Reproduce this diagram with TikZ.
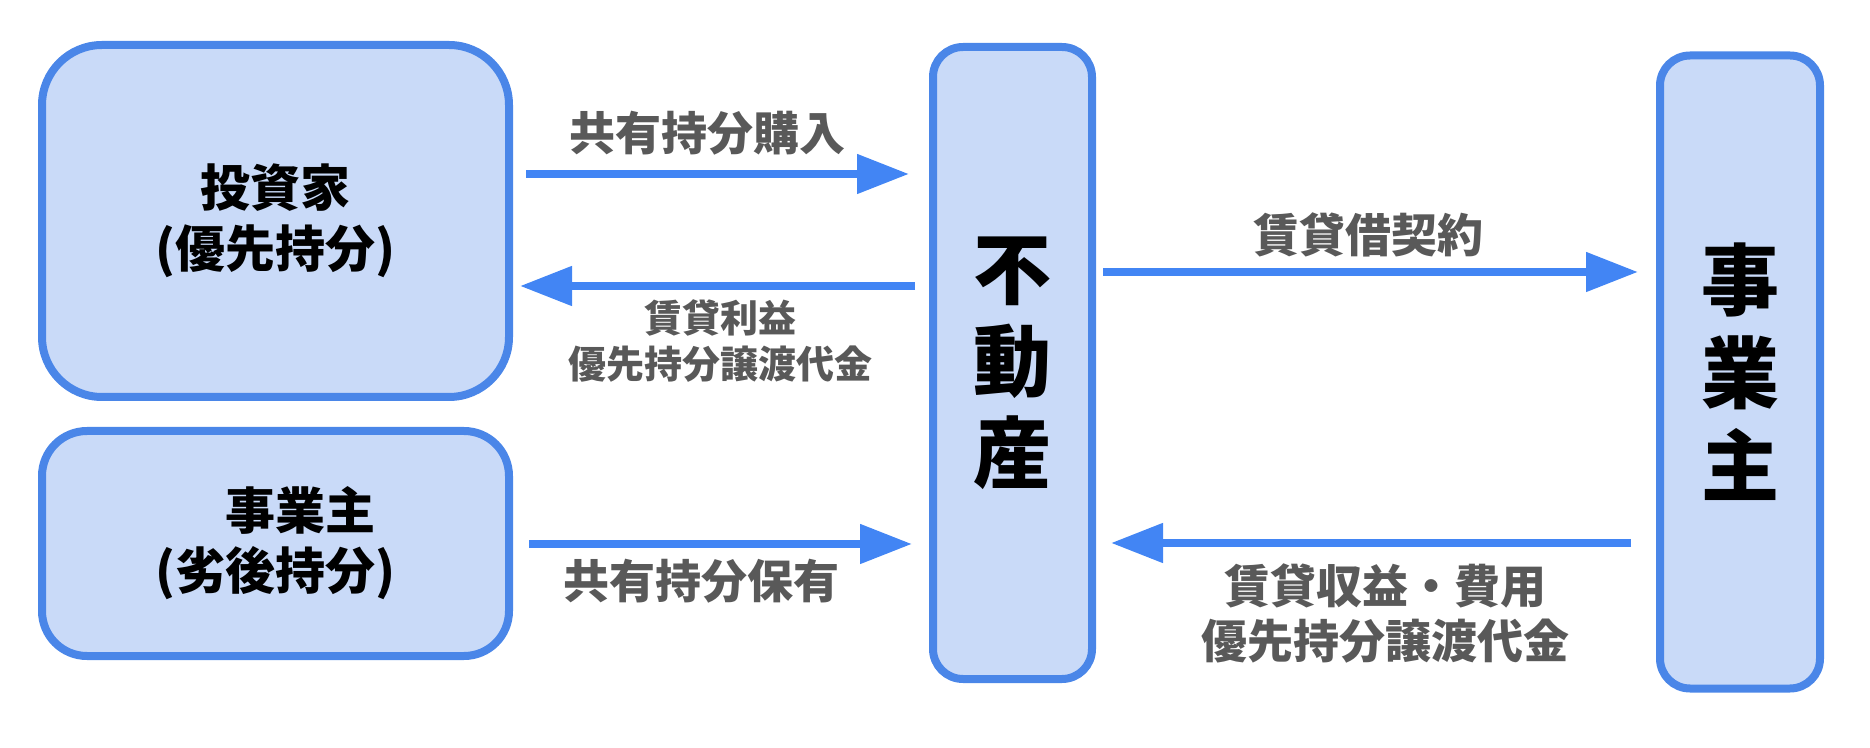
\documentclass[tikz,border=0pt]{standalone}
\usepackage{fontspec}
\setmainfont{Noto Sans CJK JP}
\usetikzlibrary{arrows.meta}
\definecolor{boxfill}{HTML}{C9DAF8}
\definecolor{boxline}{HTML}{4A86E8}
\definecolor{arrowblue}{HTML}{4285F4}
\definecolor{lblgray}{HTML}{595959}

\begin{document}
\begin{tikzpicture}[x=0.5pt,y=0.5pt,yscale=-1,xscale=1,
  box/.style={draw=boxline, fill=boxfill, line width=4pt, align=center, inner sep=0pt},
  flow/.style={draw=arrowblue, line width=4pt, -{Triangle[length=26pt,width=19pt]}},
  lbl/.style={text=lblgray, align=center, inner sep=0pt, font=\fontsize{23}{27.5}\selectfont\bfseries}]
%set diagram size 1870 x 748
\useasboundingbox (0,0) rectangle (1870,748);
\node[box, rounded corners=30pt, minimum width=233.5pt, minimum height=176pt, font=\fontsize{25}{30.5}\selectfont\bfseries] (investor) at (275.5,221) {投資家\\(優先持分)};
\node[box, rounded corners=22.5pt, minimum width=233.5pt, minimum height=112.5pt, font=\fontsize{25}{30}\selectfont\bfseries] (owner) at (275.5,543.5) {　事業主\\(劣後持分)};
\node[box, rounded corners=15pt, minimum width=79.5pt, minimum height=316pt, font=\fontsize{39}{46}\selectfont\bfseries] (estate) at (1012.5,363) {不\\動\\産};
\node[box, rounded corners=15pt, minimum width=80pt, minimum height=316.5pt, font=\fontsize{39}{46.5}\selectfont\bfseries] (operator) at (1740,372) {事\\業\\主};
\draw[flow, shorten <=6.5pt, shorten >=10pt] (investor.east |- 0,174) -- (estate.west |- 0,174);
\draw[flow, shorten <=7pt, shorten >=3.5pt] (estate.west |- 0,286) -- (investor.east |- 0,286);
\draw[flow, shorten <=8pt, shorten >=8.5pt] (owner.east |- 0,544) -- (estate.west |- 0,544);
\draw[flow, shorten <=3.5pt, shorten >=9pt] (estate.east |- 0,272) -- (operator.west |- 0,272);
\draw[flow, shorten <=12.5pt, shorten >=7.5pt] (operator.west |- 0,543) -- (estate.east |- 0,543);
\node[lbl] (buyLbl) at (707,133) {共有持分購入};
\node[lbl, font=\fontsize{19}{23}\selectfont\bfseries] (incomeLbl) at (720.5,341) {賃貸利益\\優先持分譲渡代金};
\node[lbl] (holdLbl) at (701,581) {共有持分保有};
\node[lbl] (leaseLbl) at (1368,235) {賃貸借契約};
\node[lbl] (rentLbl) at (1385.5,613.5) {賃貸収益・費用\\優先持分譲渡代金};
\end{tikzpicture}
\end{document}
